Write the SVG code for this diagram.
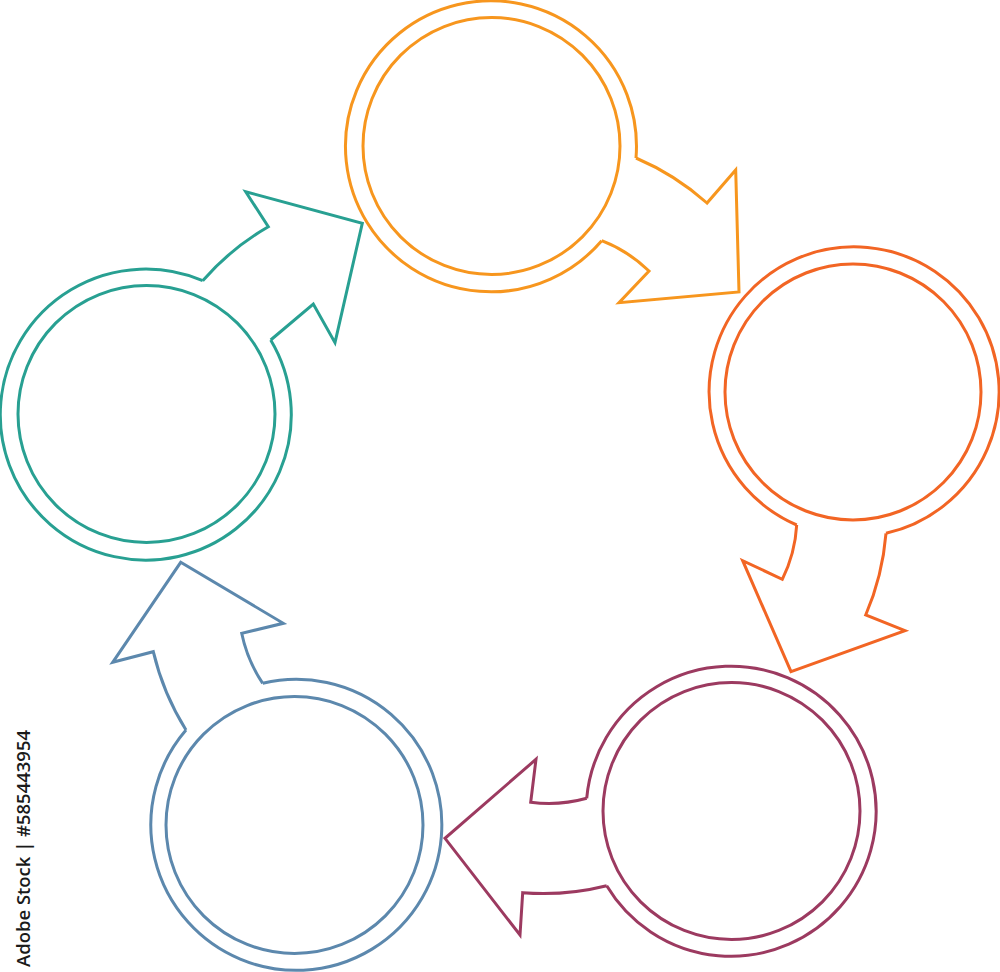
<svg xmlns="http://www.w3.org/2000/svg" width="1000" height="972" viewBox="0 0 1000 972">
<style>
  .s { fill: none; stroke-width: 3; stroke-linejoin: miter; }
  .o { stroke: #F7961E; }
  .r { stroke: #F26524; }
  .p { stroke: #9C3A60; }
  .b { stroke: #5C88AD; }
  .t { stroke: #28A092; }
  .wm { font-family: "Open Sans", "DejaVu Sans", sans-serif; font-size: 18px; font-weight: 600; fill: #1a1a1a; }
</style>
<rect width="1000" height="972" fill="#ffffff"/>
<g id="connectors">
  <path class="s o" d="M636 158 A260 260 0 0 1 707 203 L735.7 170 L739 292 L619 302.7 L649 271 A140 140 0 0 0 601.7 240.7"/>
  <path class="s r" d="M796.7 525 A140 140 0 0 1 782.3 579.3 L742.7 560.7 L791 671.7 L905 630.7 L865.7 615 A260 260 0 0 0 886 533.3"/>
  <path class="s p" d="M606.7 885.7 A260 260 0 0 1 522.7 892.7 L520 935 L445 838.3 L536 759.3 L530.7 802.3 A140 140 0 0 0 586.7 798.3"/>
  <path class="s b" d="M186 730 A260 260 0 0 1 153.3 651.7 L112.7 662.3 L180.7 562.3 L283.3 623.3 L241.7 633.3 A140 140 0 0 0 262.7 683.3"/>
  <path class="s t" d="M202.7 280.7 A260 260 0 0 1 268.3 226.7 L245.7 191.7 L362.3 223.3 L335 342.7 L313.3 304 L270.7 340"/>
</g>
<g id="node-orange">
  <path class="s o" d="M601.7 240.7 A145.5 145.5 0 1 1 636 158"/>
  <circle class="s o" cx="491.5" cy="146" r="128.5"/>
</g>
<g id="node-red">
  <path class="s r" d="M886 533.3 A145 145 0 1 0 796.7 525"/>
  <circle class="s r" cx="853" cy="392" r="128"/>
</g>
<g id="node-purple">
  <path class="s p" d="M586.7 798.3 A145 145 0 1 1 606.7 885.7"/>
  <circle class="s p" cx="731.5" cy="811" r="128.5"/>
</g>
<g id="node-blue">
  <path class="s b" d="M262.7 683.3 A145.5 145.5 0 1 1 186 730"/>
  <circle class="s b" cx="294.5" cy="825" r="128.5"/>
</g>
<g id="node-teal">
  <path class="s t" d="M270.7 340 A145.5 145.5 0 1 1 202.7 280.7"/>
  <circle class="s t" cx="146.5" cy="414" r="128.5"/>
</g>
<text class="wm" transform="translate(30 967) rotate(-90)" textLength="237" lengthAdjust="spacingAndGlyphs">Adobe Stock | #585443954</text>
</svg>
